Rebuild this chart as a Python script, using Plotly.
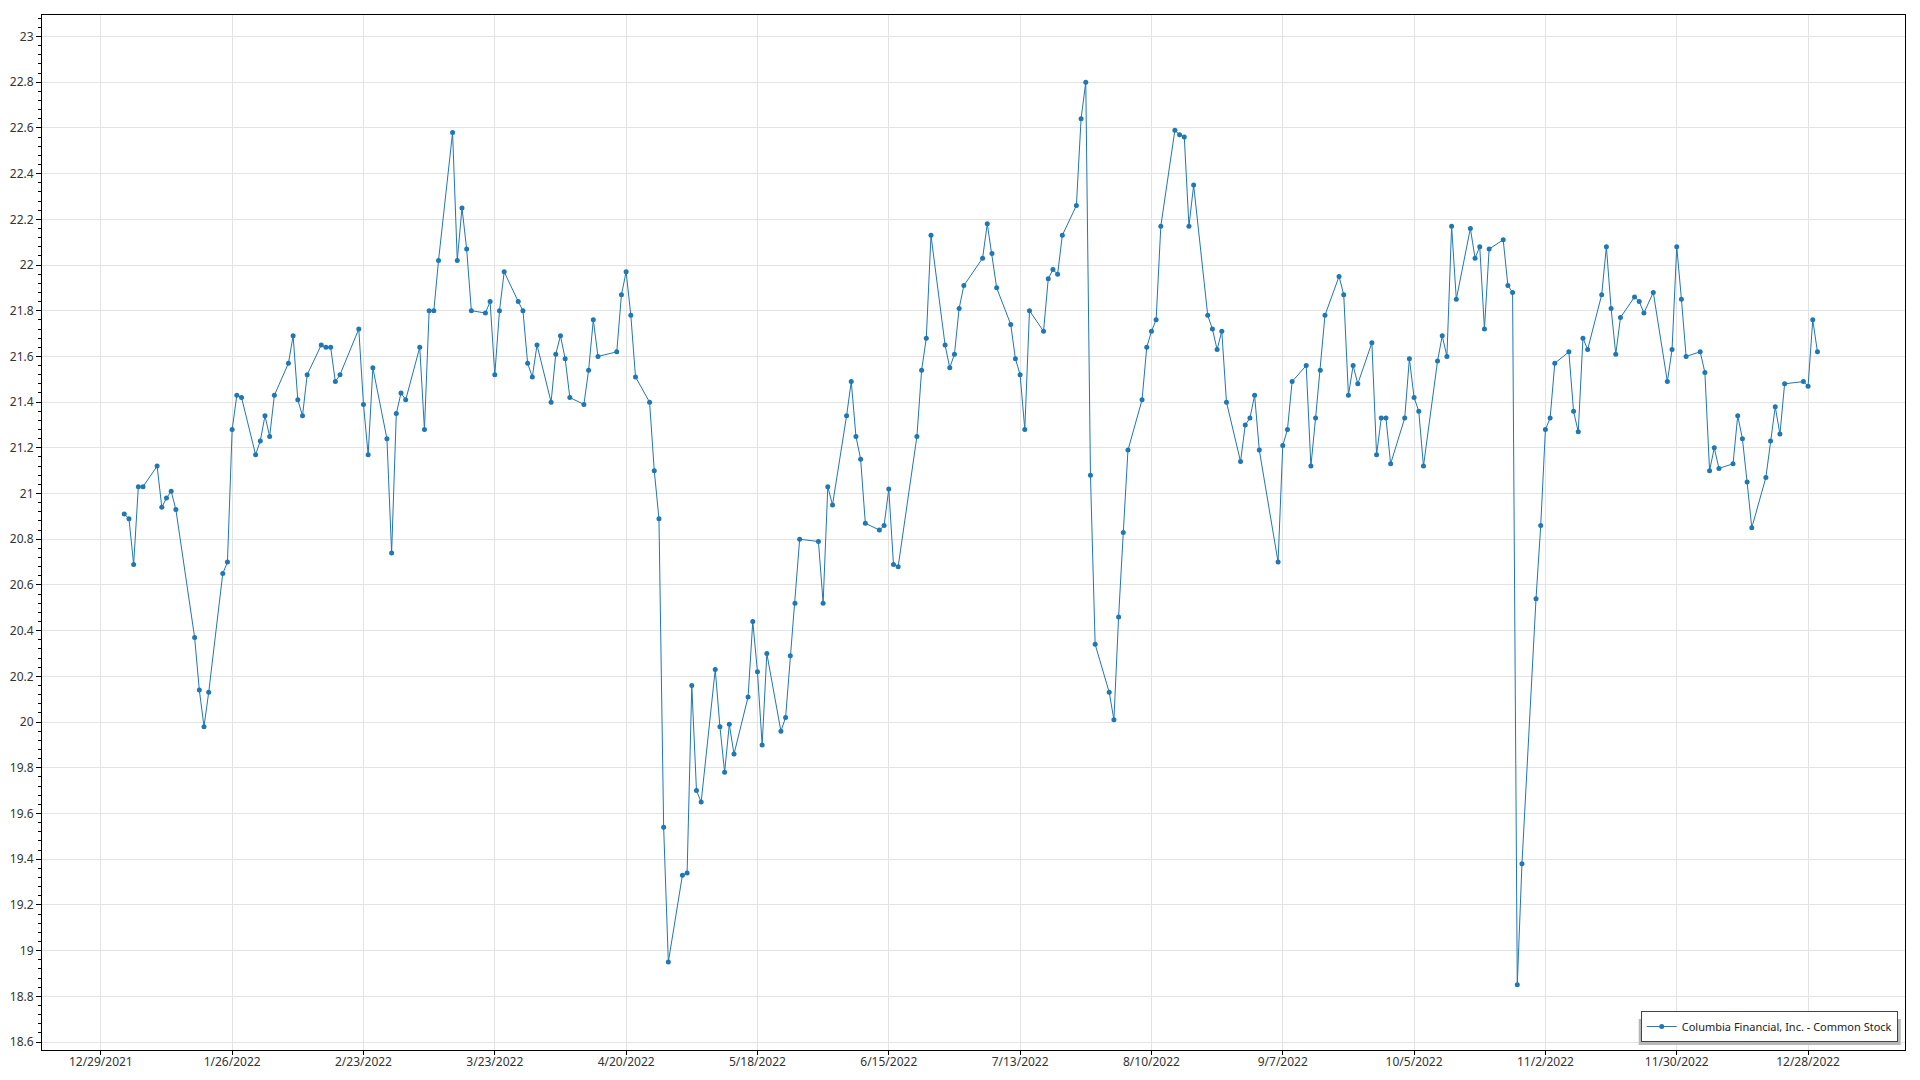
import plotly.graph_objects as go

dates = [
    "2022-01-03","2022-01-04","2022-01-05","2022-01-06","2022-01-07","2022-01-10","2022-01-11","2022-01-12","2022-01-13","2022-01-14",
    "2022-01-18","2022-01-19","2022-01-20","2022-01-21","2022-01-24","2022-01-25","2022-01-26","2022-01-27","2022-01-28","2022-01-31",
    "2022-02-01","2022-02-02","2022-02-03","2022-02-04","2022-02-07","2022-02-08","2022-02-09","2022-02-10","2022-02-11","2022-02-14",
    "2022-02-15","2022-02-16","2022-02-17","2022-02-18","2022-02-22","2022-02-23","2022-02-24","2022-02-25","2022-02-28",
    "2022-03-01","2022-03-02","2022-03-03","2022-03-04","2022-03-07","2022-03-08","2022-03-09","2022-03-10","2022-03-11","2022-03-14",
    "2022-03-15","2022-03-16","2022-03-17","2022-03-18","2022-03-21","2022-03-22","2022-03-23","2022-03-24","2022-03-25","2022-03-28",
    "2022-03-29","2022-03-30","2022-03-31",
    "2022-04-01","2022-04-04","2022-04-05","2022-04-06","2022-04-07","2022-04-08","2022-04-11","2022-04-12","2022-04-13","2022-04-14",
    "2022-04-18","2022-04-19","2022-04-20","2022-04-21","2022-04-22","2022-04-25","2022-04-26","2022-04-27","2022-04-28","2022-04-29",
    "2022-05-02","2022-05-03","2022-05-04","2022-05-05","2022-05-06","2022-05-09","2022-05-10","2022-05-11","2022-05-12","2022-05-13",
    "2022-05-16","2022-05-17","2022-05-18","2022-05-19","2022-05-20","2022-05-23","2022-05-24","2022-05-25","2022-05-26","2022-05-27",
    "2022-05-31",
    "2022-06-01","2022-06-02","2022-06-03","2022-06-06","2022-06-07","2022-06-08","2022-06-09","2022-06-10","2022-06-13","2022-06-14",
    "2022-06-15","2022-06-16","2022-06-17","2022-06-21","2022-06-22","2022-06-23","2022-06-24","2022-06-27","2022-06-28","2022-06-29",
    "2022-06-30",
    "2022-07-01","2022-07-05","2022-07-06","2022-07-07","2022-07-08","2022-07-11","2022-07-12","2022-07-13","2022-07-14","2022-07-15",
    "2022-07-18","2022-07-19","2022-07-20","2022-07-21","2022-07-22","2022-07-25","2022-07-26","2022-07-27","2022-07-28","2022-07-29",
    "2022-08-01","2022-08-02","2022-08-03","2022-08-04","2022-08-05","2022-08-08","2022-08-09","2022-08-10","2022-08-11","2022-08-12",
    "2022-08-15","2022-08-16","2022-08-17","2022-08-18","2022-08-19","2022-08-22","2022-08-23","2022-08-24","2022-08-25","2022-08-26",
    "2022-08-29","2022-08-30","2022-08-31",
    "2022-09-01","2022-09-02","2022-09-06","2022-09-07","2022-09-08","2022-09-09","2022-09-12","2022-09-13","2022-09-14","2022-09-15",
    "2022-09-16","2022-09-19","2022-09-20","2022-09-21","2022-09-22","2022-09-23","2022-09-26","2022-09-27","2022-09-28","2022-09-29",
    "2022-09-30",
    "2022-10-03","2022-10-04","2022-10-05","2022-10-06","2022-10-07","2022-10-10","2022-10-11","2022-10-12","2022-10-13","2022-10-14",
    "2022-10-17","2022-10-18","2022-10-19","2022-10-20","2022-10-21","2022-10-24","2022-10-25","2022-10-26","2022-10-27","2022-10-28",
    "2022-10-31",
    "2022-11-01","2022-11-02","2022-11-03","2022-11-04","2022-11-07","2022-11-08","2022-11-09","2022-11-10","2022-11-11","2022-11-14",
    "2022-11-15","2022-11-16","2022-11-17","2022-11-18","2022-11-21","2022-11-22","2022-11-23","2022-11-25","2022-11-28","2022-11-29",
    "2022-11-30",
    "2022-12-01","2022-12-02","2022-12-05","2022-12-06","2022-12-07","2022-12-08","2022-12-09","2022-12-12","2022-12-13","2022-12-14",
    "2022-12-15","2022-12-16","2022-12-19","2022-12-20","2022-12-21","2022-12-22","2022-12-23","2022-12-27","2022-12-28","2022-12-29",
    "2022-12-30",
]

prices = [
    20.91,20.89,20.69,21.03,21.03,21.12,20.94,20.98,21.01,20.93,
    20.37,20.14,19.98,20.13,20.65,20.70,21.28,21.43,21.42,21.17,
    21.23,21.34,21.25,21.43,21.57,21.69,21.41,21.34,21.52,21.65,
    21.64,21.64,21.49,21.52,21.72,21.39,21.17,21.55,21.24,
    20.74,21.35,21.44,21.41,21.64,21.28,21.80,21.80,22.02,22.58,
    22.02,22.25,22.07,21.80,21.79,21.84,21.52,21.80,21.97,21.84,
    21.80,21.57,21.51,
    21.65,21.40,21.61,21.69,21.59,21.42,21.39,21.54,21.76,21.60,
    21.62,21.87,21.97,21.78,21.51,21.40,21.10,20.89,19.54,18.95,
    19.33,19.34,20.16,19.70,19.65,20.23,19.98,19.78,19.99,19.86,
    20.11,20.44,20.22,19.90,20.30,19.96,20.02,20.29,20.52,20.80,
    20.79,
    20.52,21.03,20.95,21.34,21.49,21.25,21.15,20.87,20.84,20.86,
    21.02,20.69,20.68,21.25,21.54,21.68,22.13,21.65,21.55,21.61,
    21.81,
    21.91,22.03,22.18,22.05,21.90,21.74,21.59,21.52,21.28,21.80,
    21.71,21.94,21.98,21.96,22.13,22.26,22.64,22.80,21.08,20.34,
    20.13,20.01,20.46,20.83,21.19,21.41,21.64,21.71,21.76,22.17,
    22.59,22.57,22.56,22.17,22.35,21.78,21.72,21.63,21.71,21.40,
    21.14,21.30,21.33,
    21.43,21.19,20.70,21.21,21.28,21.49,21.56,21.12,21.33,21.54,
    21.78,21.95,21.87,21.43,21.56,21.48,21.66,21.17,21.33,21.33,
    21.13,
    21.33,21.59,21.42,21.36,21.12,21.58,21.69,21.60,22.17,21.85,
    22.16,22.03,22.08,21.72,22.07,22.11,21.91,21.88,18.85,19.38,
    20.54,
    20.86,21.28,21.33,21.57,21.62,21.36,21.27,21.68,21.63,21.87,
    22.08,21.81,21.61,21.77,21.86,21.84,21.79,21.88,21.49,21.63,
    22.08,
    21.85,21.60,21.62,21.53,21.10,21.20,21.11,21.13,21.34,21.24,
    21.05,20.85,21.07,21.23,21.38,21.26,21.48,21.49,21.47,21.76,
    21.62,
]

series_name = "Columbia Financial, Inc. - Common Stock"
x_tick_start = "2021-12-29"
x_tick_step_days = 28
y_tick_step = 0.2

BLUE = "rgb(31,119,180)"
FONT = "Segoe UI, Noto Sans, Open Sans, sans-serif"

fig = go.Figure()
fig.add_trace(go.Scatter(
    x=dates, y=prices, mode="lines+markers", name=series_name,
    line=dict(color=BLUE, width=1),
    marker=dict(color=BLUE, size=5),
))

axis_common = dict(
    showline=True, linecolor="black", linewidth=1, mirror=True,
    showgrid=True, gridcolor="#e3e3e3", gridwidth=1,
    ticks="outside", tickcolor="black", tickwidth=1,
    zeroline=False, automargin=False,
    tickfont=dict(family=FONT, size=12, color="#333333"),
)

# legend drop shadow (pixel-sized, anchored at legend's lower-right corner)
LEG_W, LEG_H = 262, 26
fig.add_shape(
    type="rect", xref="paper", yref="paper",
    xsizemode="pixel", ysizemode="pixel",
    xanchor=0.9961, yanchor=0.0077,
    x0=-LEG_W + 3, x1=3, y0=-3, y1=LEG_H - 3,
    fillcolor="#b8b8b8", line=dict(width=0), layer="above",
)

fig.update_layout(
    width=1904, height=1064,
    margin=dict(l=34, r=7, t=7, b=22, pad=0, autoexpand=False),
    paper_bgcolor="white", plot_bgcolor="white",
    font=dict(family=FONT, size=12, color="#333333"),
    showlegend=True,
    legend=dict(
        x=0.9961, xanchor="right", y=0.0077, yanchor="bottom",
        bgcolor="white", bordercolor="#444444", borderwidth=1,
        font=dict(family=FONT, size=11, color="#222222"),
        itemwidth=30, tracegroupgap=0,
    ),
    xaxis=dict(
        axis_common,
        type="date",
        range=["2021-12-16 11:00", "2023-01-17 16:00"],
        tick0=x_tick_start, dtick=x_tick_step_days * 86400000,
        tickformat="%-m/%-d/%Y",
        ticklen=4, ticklabelstandoff=-3,
    ),
    yaxis=dict(
        axis_common,
        range=[18.565, 23.094],
        dtick=y_tick_step, tick0=0, ticklen=5,
        minor=dict(dtick=y_tick_step / 5, ticks="outside", ticklen=3,
                   tickcolor="black", showgrid=False),
    ),
)

fig.write_html("out.html")
